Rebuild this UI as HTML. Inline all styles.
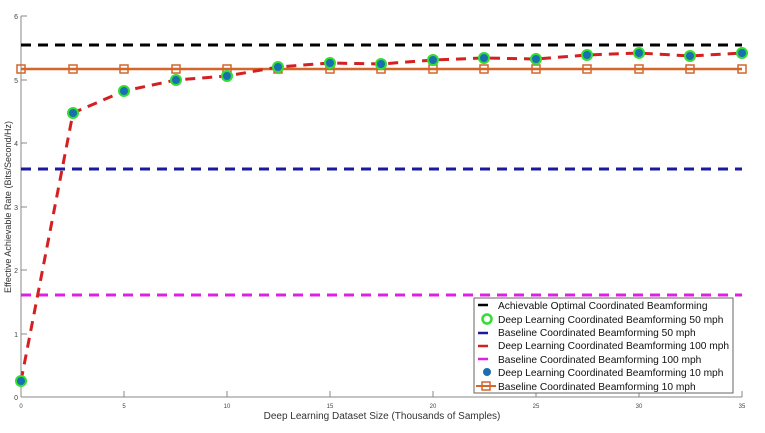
<!DOCTYPE html>
<html><head><meta charset="utf-8"><style>body{margin:0;background:#fff}svg{display:block}text{font-family:"Liberation Sans",sans-serif}</style></head><body>
<svg width="765" height="433" viewBox="0 0 765 433" xmlns="http://www.w3.org/2000/svg">
<g stroke="#888" stroke-width="1" fill="none">
<line x1="21" y1="16" x2="21" y2="397"/>
<line x1="21" y1="397" x2="742" y2="397"/>
<line x1="742" y1="391" x2="742" y2="397"/>
<line x1="124" y1="391" x2="124" y2="397"/><line x1="227" y1="391" x2="227" y2="397"/><line x1="330" y1="391" x2="330" y2="397"/><line x1="433" y1="391" x2="433" y2="397"/><line x1="536" y1="391" x2="536" y2="397"/><line x1="639" y1="391" x2="639" y2="397"/>
<line x1="21" y1="16" x2="27" y2="16"/><line x1="21" y1="80" x2="27" y2="80"/><line x1="21" y1="143" x2="27" y2="143"/><line x1="21" y1="207" x2="27" y2="207"/><line x1="21" y1="270" x2="27" y2="270"/><line x1="21" y1="334" x2="27" y2="334"/>
</g>
<g font-size="6" fill="#444" text-anchor="middle">
<text x="21" y="408">0</text><text x="124" y="408">5</text><text x="227" y="408">10</text><text x="330" y="408">15</text><text x="433" y="408">20</text><text x="536" y="408">25</text><text x="639" y="408">30</text><text x="742" y="408">35</text>
</g>
<g font-size="7" fill="#444" text-anchor="end">
<text x="18" y="19">6</text><text x="18" y="83">5</text><text x="18" y="146">4</text><text x="18" y="210">3</text><text x="18" y="273">2</text><text x="18" y="337">1</text><text x="18" y="400">0</text>
</g>
<text x="382" y="419" font-size="10" fill="#333" text-anchor="middle">Deep Learning Dataset Size (Thousands of Samples)</text>
<text transform="translate(11,207) rotate(-90)" font-size="9" fill="#333" text-anchor="middle">Effective Achievable Rate (Bits/Second/Hz)</text>
<g fill="none" stroke-width="3" stroke-dasharray="10,7">
<line x1="21" y1="45" x2="742" y2="45" stroke="#000"/>
<line x1="21" y1="169" x2="742" y2="169" stroke="#1a1aa0"/>
<line x1="21" y1="295" x2="742" y2="295" stroke="#e020e0"/>
</g>
<line x1="21" y1="69" x2="742" y2="69" stroke="#d4662a" stroke-width="2.5"/>
<g fill="none" stroke="#d4662a" stroke-width="1.5">
<rect x="17" y="65" width="8" height="8"/><rect x="69" y="65" width="8" height="8"/><rect x="120" y="65" width="8" height="8"/><rect x="172" y="65" width="8" height="8"/><rect x="223" y="65" width="8" height="8"/><rect x="274" y="65" width="8" height="8"/><rect x="326" y="65" width="8" height="8"/><rect x="377" y="65" width="8" height="8"/><rect x="429" y="65" width="8" height="8"/><rect x="480" y="65" width="8" height="8"/><rect x="532" y="65" width="8" height="8"/><rect x="583" y="65" width="8" height="8"/><rect x="635" y="65" width="8" height="8"/><rect x="686" y="65" width="8" height="8"/><rect x="738" y="65" width="8" height="8"/>
</g>
<polyline fill="none" stroke="#d42020" stroke-width="3" stroke-dasharray="10,7" points="21,381 73,113 124,91 176,80 227,76 278,67 330,63 381,64 433,60 484,58 536,59 587,55 639,53 690,56 742,53"/>
<g fill="#1a6fb0" stroke="#33dd33" stroke-width="2">
<circle cx="21" cy="381" r="5"/><circle cx="73" cy="113" r="5"/><circle cx="124" cy="91" r="5"/><circle cx="176" cy="80" r="5"/><circle cx="227" cy="76" r="5"/><circle cx="278" cy="67" r="5"/><circle cx="330" cy="63" r="5"/><circle cx="381" cy="64" r="5"/><circle cx="433" cy="60" r="5"/><circle cx="484" cy="58" r="5"/><circle cx="536" cy="59" r="5"/><circle cx="587" cy="55" r="5"/><circle cx="639" cy="53" r="5"/><circle cx="690" cy="56" r="5"/><circle cx="742" cy="53" r="5"/>
</g>
<rect x="474" y="298" width="259" height="95" fill="#fff" stroke="#666" stroke-width="1"/>
<g font-size="10.2" fill="#111">
<line x1="478" y1="305" x2="488" y2="305" stroke="#000" stroke-width="2.5"/><text x="498" y="309">Achievable Optimal Coordinated Beamforming</text>
<circle cx="487" cy="319" r="4.5" fill="none" stroke="#33dd33" stroke-width="2.5"/><text x="498" y="323">Deep Learning Coordinated Beamforming 50 mph</text>
<line x1="478" y1="333" x2="488" y2="333" stroke="#1a1aa0" stroke-width="2.5"/><text x="498" y="336">Baseline Coordinated Beamforming 50 mph</text>
<line x1="478" y1="346" x2="488" y2="346" stroke="#d42020" stroke-width="2.5"/><text x="498" y="349">Deep Learning Coordinated Beamforming 100 mph</text>
<line x1="478" y1="359" x2="488" y2="359" stroke="#e020e0" stroke-width="2.5"/><text x="498" y="363">Baseline Coordinated Beamforming 100 mph</text>
<circle cx="487" cy="372" r="4" fill="#1a6fb0"/><text x="498" y="376">Deep Learning Coordinated Beamforming 10 mph</text>
<line x1="476" y1="386" x2="496" y2="386" stroke="#d4662a" stroke-width="2"/><rect x="482" y="382" width="8" height="8" fill="none" stroke="#d4662a" stroke-width="1.5"/><text x="498" y="390">Baseline Coordinated Beamforming 10 mph</text>
</g>
</svg>
</body></html>
